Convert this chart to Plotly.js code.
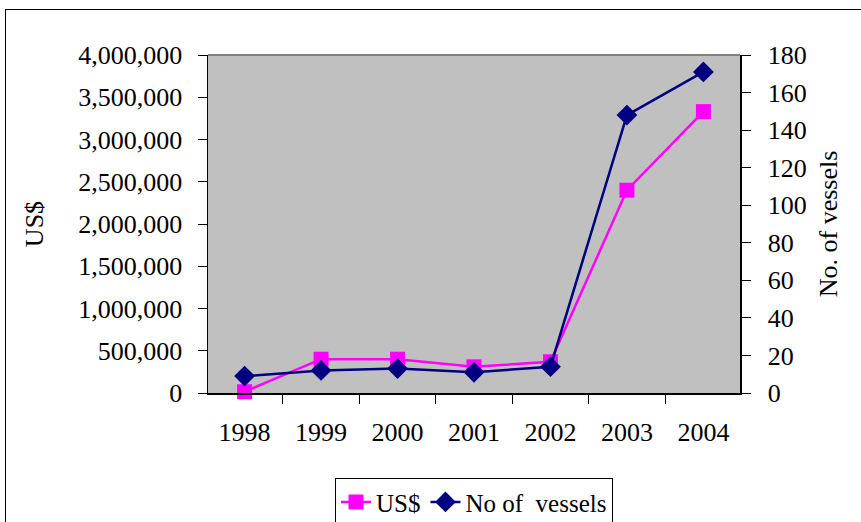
<!DOCTYPE html>
<html>
<head>
<meta charset="utf-8">
<script src="https://cdn.plot.ly/plotly-3.0.1.min.js"></script>
<style>
html,body{margin:0;padding:0;background:#fff;}
#wrap{position:relative;width:861px;height:522px;overflow:hidden;}
#frame{position:absolute;left:5px;top:9px;width:900px;height:600px;border:1px solid #000;box-sizing:border-box;pointer-events:none;}
#chart{position:absolute;left:0;top:0;width:861px;height:522px;}
</style>
</head>
<body>
<div id="wrap">
<div id="chart"></div>
<div id="frame"></div>
</div>
<script>
const years = ['1998','1999','2000','2001','2002','2003','2004'];
const usd = [15000, 400000, 400000, 310000, 370000, 2400000, 3330000];
const vessels = [9, 12, 13, 11, 14, 148, 171];
const leftTicks = [0,500000,1000000,1500000,2000000,2500000,3000000,3500000,4000000];
const leftLabels = ['0','500,000','1,000,000','1,500,000','2,000,000','2,500,000','3,000,000','3,500,000','4,000,000'];
const rightTicks = [0,20,40,60,80,100,120,140,160,180];

const FAM = 'Liberation Serif';
const FS = 26;

const traces = [
  {x: years, y: usd, name: 'US$', type: 'scatter', mode: 'lines+markers',
   line: {color: '#FF00FF', width: 2.5},
   marker: {symbol: 'square', size: 15, color: '#FF00FF'}, yaxis: 'y', cliponaxis: false},
  {x: years, y: vessels, name: 'No of&nbsp; vessels', type: 'scatter', mode: 'lines+markers',
   line: {color: '#000080', width: 2.5},
   marker: {symbol: 'diamond', size: 16, color: '#000080'}, yaxis: 'y2', cliponaxis: false}
];

const innerTicks = (side, range, vals) => ({
  range: range, tickvals: vals, overlaying: 'y', side: side, ticks: 'inside', ticklen: 9,
  tickcolor: '#000', tickwidth: 1, showticklabels: false, showline: false, showgrid: false,
  zeroline: false, automargin: false, fixedrange: true
});

const layout = {
  width: 861, height: 522,
  margin: {l: 208, r: 121, t: 55, b: 129, autoexpand: false},
  paper_bgcolor: 'rgba(0,0,0,0)',
  plot_bgcolor: '#C0C0C0',
  font: {family: FAM, color: '#000', size: FS},
  showlegend: true,
  legend: {orientation: 'h', x: 0.5, xanchor: 'center', yref: 'container', y: 0.084, yanchor: 'top',
           bordercolor: '#000', borderwidth: 1, bgcolor: '#fff',
           font: {family: FAM, size: 25, color: '#000'}},
  xaxis: {type: 'category', tickson: 'boundaries', ticks: 'outside', ticklen: 9, tickcolor: '#000',
          showline: true, linecolor: '#000', linewidth: 1.5, showgrid: false, zeroline: false,
          tickfont: {family: FAM, size: FS, color: '#000'}, ticklabelstandoff: 15, automargin: false},
  yaxis: {range: [0, 4000000], tickvals: leftTicks, ticktext: leftLabels, ticks: 'outside', ticklen: 9,
          tickcolor: '#000', showline: true, linecolor: '#000', linewidth: 1.5, showgrid: false, zeroline: false,
          tickfont: {family: FAM, size: FS, color: '#000'}, ticklabelstandoff: 10, automargin: false,
          title: {text: 'US$', font: {family: FAM, size: FS, color: '#000'}, standoff: 27}},
  yaxis2: {range: [0, 180], tickvals: rightTicks, overlaying: 'y', side: 'right', ticks: 'outside', ticklen: 9,
           tickcolor: '#000', showline: true, linecolor: '#000', linewidth: 1.5, showgrid: false, zeroline: false,
           tickfont: {family: FAM, size: FS, color: '#000'}, ticklabelstandoff: 12, automargin: false,
           title: {text: 'No. of vessels', font: {family: FAM, size: FS, color: '#000'}, standoff: 13}},
  yaxis3: innerTicks('left', [0, 4000000], leftTicks),
  yaxis4: innerTicks('right', [0, 180], rightTicks),
  shapes: [{type: 'line', xref: 'paper', yref: 'paper', x0: 0, x1: 1, y0: 1, y1: 1,
            line: {color: '#808080', width: 2}}]
};

Plotly.newPlot('chart', traces, layout, {displayModeBar: false, staticPlot: true});
</script>
</body>
</html>
